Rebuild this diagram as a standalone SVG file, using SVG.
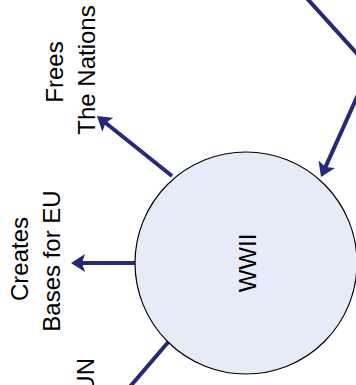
<svg xmlns="http://www.w3.org/2000/svg" width="356" height="385" viewBox="0 0 356 385">
<style>
.lbl{font-family:"Liberation Sans",Arial,sans-serif;font-size:24px;fill:#000;text-anchor:middle}
.con{fill:none;stroke:#28287a;stroke-width:4;stroke-linejoin:miter}
.node{fill:#e6ecf7;stroke:#000;stroke-width:1.2}
</style>
<defs>
<marker id="ah" viewBox="0 0 14 18" refX="4" refY="9" markerWidth="14" markerHeight="18" markerUnits="userSpaceOnUse" orient="auto">
<path d="M0,0 L14,9 L0,18 L3,9 z" fill="#28287a"/>
</marker>
</defs>
<g id="connectors">
<path class="con" d="M172,176 L104.8,122.3" marker-end="url(#ah)"/>
<path class="con" d="M135,263 L81,263" marker-end="url(#ah)"/>
<path class="con" d="M170,340 L110,410"/>
<path class="con" d="M303,-6 L370,68 L325.1,167.9" marker-end="url(#ah)"/>
</g>
<g id="wwii">
<circle class="node" cx="246" cy="263" r="111"/>
<text class="lbl" transform="translate(256,263) rotate(-90)">WWII</text>
</g>
<g id="frees">
<text class="lbl" transform="translate(63,72) rotate(-90)">Frees</text>
<text class="lbl" transform="translate(95,70) rotate(-90)">The Nations</text>
</g>
<g id="creates">
<text class="lbl" transform="translate(28,259) rotate(-90)">Creates</text>
<text class="lbl" transform="translate(60,261) rotate(-90)">Bases for EU</text>
</g>
<g id="un">
<text class="lbl" style="text-anchor:end" transform="translate(94,358) rotate(-90)">UN</text>
</g>
</svg>
